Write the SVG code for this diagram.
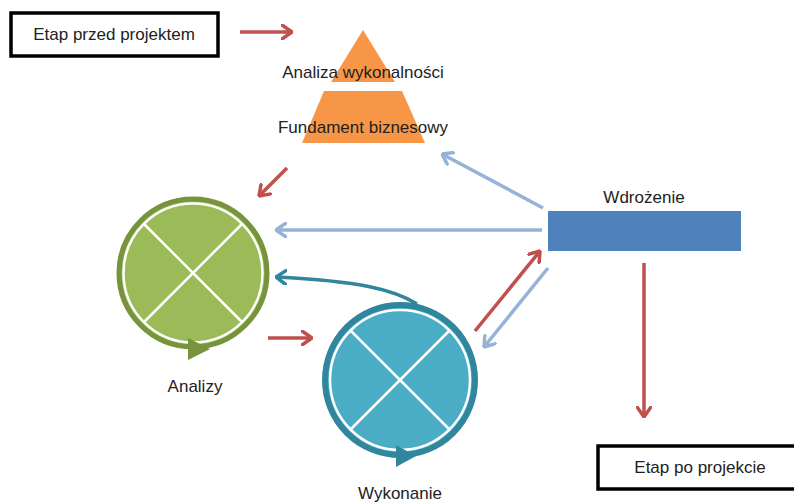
<svg xmlns="http://www.w3.org/2000/svg" width="794" height="502" viewBox="0 0 794 502">
<defs>
<style>
text{font-family:"Liberation Sans","Open Sans",Arial,sans-serif;font-size:17px;fill:#222;text-anchor:middle}
.box{fill:#fff;stroke:#000;stroke-width:3.5}
.red{stroke:#c0504d;stroke-width:3.5;fill:none;marker-end:url(#mRed)}
.blue{stroke:#95b3d7;stroke-width:3.5;fill:none;marker-end:url(#mBlue)}
.teal{stroke:#31859c;stroke-width:3.5;fill:none;marker-end:url(#mTeal)}
.x{stroke:#fff;stroke-width:2.5}
</style>
<marker id="mRed" viewBox="0 0 12 16" refX="11" refY="8" markerWidth="12" markerHeight="16" markerUnits="userSpaceOnUse" orient="auto"><path d="M1,1 L11,8 L1,15" fill="none" stroke="#c0504d" stroke-width="3.5" stroke-linecap="round" stroke-linejoin="round"/></marker>
<marker id="mBlue" viewBox="0 0 12 16" refX="11" refY="8" markerWidth="12" markerHeight="16" markerUnits="userSpaceOnUse" orient="auto"><path d="M1,1 L11,8 L1,15" fill="none" stroke="#95b3d7" stroke-width="3.5" stroke-linecap="round" stroke-linejoin="round"/></marker>
<marker id="mTeal" viewBox="0 0 12 16" refX="11" refY="8" markerWidth="12" markerHeight="16" markerUnits="userSpaceOnUse" orient="auto"><path d="M1,1 L11,8 L1,15" fill="none" stroke="#31859c" stroke-width="3.5" stroke-linecap="round" stroke-linejoin="round"/></marker>
</defs>
<rect width="794" height="502" fill="#fff"/>

<g id="connectors">
<line class="red" x1="240" y1="32" x2="292" y2="32"/>
<line class="red" x1="287" y1="168" x2="259" y2="196"/>
<line class="red" x1="268" y1="338" x2="312" y2="338"/>
<line class="red" x1="475" y1="331" x2="540" y2="251"/>
<line class="red" x1="644" y1="263" x2="644" y2="417"/>
<line class="blue" x1="543" y1="208" x2="442" y2="154"/>
<line class="blue" x1="542" y1="230" x2="276" y2="230"/>
<line class="blue" x1="548" y1="268" x2="484" y2="347"/>
<path class="teal" d="M417,304 C395,290 360,281 276,277"/>
</g>

<g id="etap-przed">
<rect class="box" x="11" y="13" width="207" height="43"/>
<text x="114" y="40">Etap przed projektem</text>
</g>

<g id="piramida">
<polygon points="363,30 331,82 395,82" fill="#f79646"/>
<polygon points="324,91 402,91 425,143 302,143" fill="#f79646"/>
<text x="363" y="78">Analiza wykonalności</text>
<text x="363" y="133">Fundament biznesowy</text>
</g>

<g id="analizy">
<circle cx="193" cy="273" r="74" fill="#9bbb59" stroke="#77933c" stroke-width="5"/>
<circle cx="193" cy="273" r="69.5" fill="none" stroke="#fff" stroke-width="2.5"/>
<line class="x" x1="144" y1="224" x2="242" y2="322"/>
<line class="x" x1="242" y1="224" x2="144" y2="322"/>
<polygon points="188,338 210,349 188,360" fill="#77933c"/>
<text x="195" y="392">Analizy</text>
</g>

<g id="wykonanie">
<circle cx="400" cy="380" r="75" fill="#4bacc6" stroke="#31859c" stroke-width="6"/>
<circle cx="400" cy="380" r="70" fill="none" stroke="#fff" stroke-width="2.5"/>
<line class="x" x1="351" y1="331" x2="449" y2="429"/>
<line class="x" x1="449" y1="331" x2="351" y2="429"/>
<polygon points="396,445 416,456 396,467" fill="#31859c"/>
<text x="400" y="499">Wykonanie</text>
</g>

<g id="wdrozenie">
<rect x="548" y="211" width="193" height="40" fill="#4f81bd"/>
<text x="644" y="203">Wdrożenie</text>
</g>

<g id="etap-po">
<rect class="box" x="598" y="446" width="210" height="43"/>
<text x="700" y="473">Etap po projekcie</text>
</g>
</svg>
